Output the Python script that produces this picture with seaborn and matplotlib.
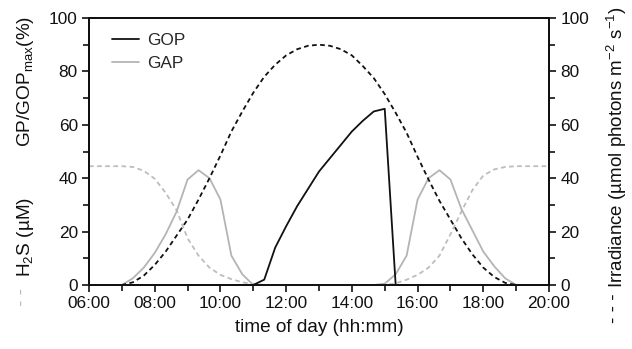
import numpy as np
import pandas as pd
import matplotlib
matplotlib.use("Agg")
import matplotlib.pyplot as plt
from matplotlib.ticker import MultipleLocator, FuncFormatter
import seaborn as sns

# time grid (hours of day), 20-min steps from 06:00 to 20:00
time_h = np.arange(6, 20 + 1e-9, 1 / 3)

gop = [0, 0, 0, 0, 0, 0, 0, 0, 0, 0, 0, 0, 0, 0, 0, 0,
       2, 14, 22, 29.5, 36, 42.5, 47.5, 52.5, 57.5, 61.5, 65, 66,
       0, 0, 0, 0, 0, 0, 0, 0, 0, 0, 0, 0, 0, 0, 0]
gap = [0, 0, 0, 0, 2.5, 6.5, 12, 19, 27.5, 39.5, 43, 40, 32, 11, 4, 0,
       0, 0, 0, 0, 0, 0, 0, 0, 0, 0, 0,
       0.5, 4, 11, 32, 40, 43, 39.5, 28.5, 20.5, 12.5, 7, 2.5, 0, 0, 0, 0]
h2s = [44.5, 44.5, 44.5, 44.5, 44.2, 42.8, 39.8, 34.5, 28, 17.5, 11, 6.5, 3.8, 2.2, 1, 0.4,
       0, 0, 0, 0, 0, 0, 0, 0, 0, 0, 0, 0,
       0.6, 2, 3.8, 6.5, 11, 19, 27.5, 35.5, 41, 43.3, 44.2, 44.5, 44.5, 44.5, 44.5]
irr = [0, 0, 0, 0, 1, 3.5, 7.5, 12.5, 18.5, 24.5, 32, 40, 48.5, 57.5, 65, 72, 78, 82.5,
       86, 88.3, 89.6, 90, 89.6, 88.3, 86, 82, 77.5, 71.5, 64.5, 57, 48, 39.5, 31.5,
       24.5, 17.5, 11.5, 6.5, 3, 0.8, 0, 0, 0, 0]

df = pd.DataFrame({"time": time_h, "GOP": gop, "GAP": gap, "H2S": h2s, "Irr": irr})

sns.set_theme(style="ticks")
plt.rcParams["font.family"] = ["Liberation Sans", "DejaVu Sans"]
plt.rcParams["mathtext.default"] = "regular"

fig = plt.figure(figsize=(6.32, 3.49), dpi=100)
ax = fig.add_axes([0.1408, 0.1834, 0.7279, 0.765])
ax2 = ax.twinx()

dash = (0, (2.6, 1.9))
sns.lineplot(data=df, x="time", y="H2S", ax=ax, color="#bdbdbd", lw=1.3,
             linestyle=dash, errorbar=None, clip_on=False, zorder=3)
sns.lineplot(data=df, x="time", y="GAP", ax=ax, color="#b4b4b4", lw=1.3,
             errorbar=None, clip_on=False, label="GAP", zorder=3)
sns.lineplot(data=df, x="time", y="GOP", ax=ax, color="#111111", lw=1.3,
             errorbar=None, clip_on=False, label="GOP", zorder=3)
sns.lineplot(data=df, x="time", y="Irr", ax=ax2, color="#111111", lw=1.3,
             linestyle=dash, errorbar=None, clip_on=False)

for a in (ax, ax2):
    a.set_xlim(6, 20)
    a.set_ylim(0, 100)
    a.set_xlabel("")
    a.set_ylabel("")
    a.yaxis.set_major_locator(MultipleLocator(20))
    a.yaxis.set_minor_locator(MultipleLocator(10))
    for s in a.spines.values():
        s.set_linewidth(1.4)
        s.set_color("#111111")
        s.set_visible(True)

ax.xaxis.set_major_locator(MultipleLocator(2))
ax.xaxis.set_minor_locator(MultipleLocator(1))
ax.xaxis.set_major_formatter(FuncFormatter(lambda v, p: f"{int(round(v)):02d}:00"))

ax.tick_params(axis="both", which="major", direction="out", length=5, width=1.2,
               labelsize=12.4, colors="#111111", pad=3)
ax.tick_params(axis="both", which="minor", direction="out", length=4, width=1.2, colors="#111111")
ax2.tick_params(axis="y", which="major", direction="out", length=5, width=1.2,
                labelsize=12.4, colors="#111111", pad=3)
ax2.tick_params(axis="y", which="minor", direction="out", length=4, width=1.2, colors="#111111")
ax.tick_params(top=False, which="both")

ax.set_xlabel("time of day (hh:mm)", fontsize=13.7, color="#111111", labelpad=6)

handles, labels = ax.get_legend_handles_labels()
order = [labels.index("GOP"), labels.index("GAP")]
leg = ax.legend([handles[i] for i in order], [labels[i] for i in order],
                loc="upper left", bbox_to_anchor=(0.05, 0.943), frameon=False,
                fontsize=12.4, handlelength=1.57, handletextpad=0.45,
                labelspacing=0.45, borderpad=0, borderaxespad=0)

# composite y labels
fig.text(0.040, 0.766, r"GP/GOP$_\mathregular{max}$(%)", rotation=90, ha="center", va="center",
         fontsize=13.7, color="#111111")
fig.text(0.040, 0.321, r"H$_\mathregular{2}$S (µM)", rotation=90, ha="center", va="center",
         fontsize=13.7, color="#111111")
fig.text(0.036, 0.149, "- -", rotation=90, ha="center", va="center",
         fontsize=13.7, color="#bbbbbb")
fig.text(0.976, 0.578, r"Irradiance (µmol photons m$^\mathregular{-2}$ s$^\mathregular{-1}$)",
         rotation=90, ha="center", va="center", fontsize=13.5, color="#111111")
fig.text(0.972, 0.118, "- - -", rotation=90, ha="center", va="center",
         fontsize=13.7, color="#111111")

fig.savefig("out.png", dpi=100)
